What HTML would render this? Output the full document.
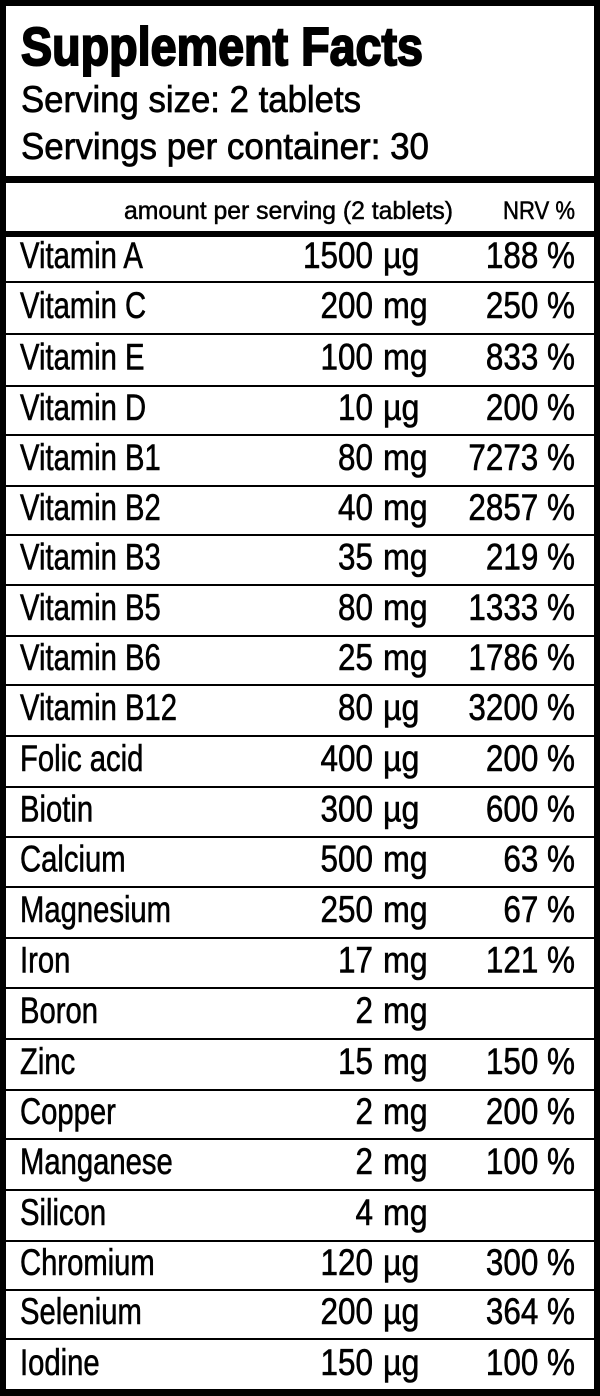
<!DOCTYPE html>
<html>
<head>
<meta charset="utf-8">
<style>
html,body{margin:0;padding:0;background:#fff;}
svg{display:block;}
text{font-family:"Liberation Sans",Arial,sans-serif;fill:#000;}
</style>
</head>
<body>
<svg width="600" height="1396" viewBox="0 0 600 1396" xmlns="http://www.w3.org/2000/svg">
<rect x="0" y="0" width="600" height="1396" fill="#fff"/>
<!-- outer border -->
<rect x="0" y="0" width="600" height="6" fill="#000"/>
<rect x="0" y="1389" width="600" height="7" fill="#000"/>
<rect x="0" y="0" width="6" height="1396" fill="#000"/>
<rect x="594" y="0" width="6" height="1396" fill="#000"/>
<!-- thick separators -->
<rect x="0" y="176" width="600" height="7" fill="#000"/>
<rect x="0" y="231" width="600" height="6" fill="#000"/>
<!-- thin row lines -->
<g fill="#000">
<rect x="0" y="281" width="600" height="2"/>
<rect x="0" y="333" width="600" height="2"/>
<rect x="0" y="385" width="600" height="2"/>
<rect x="0" y="434" width="600" height="2"/>
<rect x="0" y="485" width="600" height="2"/>
<rect x="0" y="534" width="600" height="2"/>
<rect x="0" y="584" width="600" height="2"/>
<rect x="0" y="635" width="600" height="2"/>
<rect x="0" y="684" width="600" height="2"/>
<rect x="0" y="735" width="600" height="2"/>
<rect x="0" y="786" width="600" height="2"/>
<rect x="0" y="836" width="600" height="2"/>
<rect x="0" y="886" width="600" height="2"/>
<rect x="0" y="937" width="600" height="2"/>
<rect x="0" y="987" width="600" height="2"/>
<rect x="0" y="1038" width="600" height="2"/>
<rect x="0" y="1089" width="600" height="2"/>
<rect x="0" y="1138" width="600" height="2"/>
<rect x="0" y="1189" width="600" height="2"/>
<rect x="0" y="1240" width="600" height="2"/>
<rect x="0" y="1289" width="600" height="2"/>
<rect x="0" y="1338" width="600" height="2"/>
</g>
<!-- header -->
<text x="21" y="65" font-size="54" font-weight="bold" stroke="#000" stroke-width="2" textLength="402" lengthAdjust="spacingAndGlyphs">Supplement Facts</text>
<text x="21" y="112" font-size="37" stroke="#000" stroke-width="0.7" textLength="340" lengthAdjust="spacingAndGlyphs">Serving size: 2 tablets</text>
<text x="21" y="159" font-size="37" stroke="#000" stroke-width="0.7" textLength="408" lengthAdjust="spacingAndGlyphs">Servings per container: 30</text>
<text x="124" y="219" font-size="25" stroke="#000" stroke-width="0.5" textLength="329" lengthAdjust="spacingAndGlyphs">amount per serving (2 tablets)</text>
<text x="503" y="219" font-size="25" stroke="#000" stroke-width="0.5" textLength="72" lengthAdjust="spacingAndGlyphs">NRV %</text>

<g font-size="37" stroke="#000" stroke-width="0.6">
<text transform="translate(20,268) scale(0.79,1)">Vitamin A</text>
<text transform="translate(373,268) scale(0.85,1)" text-anchor="end">1500</text>
<text transform="translate(383,268) scale(0.87,1)">µg</text>
<text transform="translate(575,268) scale(0.85,1)" text-anchor="end">188 %</text>

<text transform="translate(20,318) scale(0.79,1)">Vitamin C</text>
<text transform="translate(373,318) scale(0.85,1)" text-anchor="end">200</text>
<text transform="translate(383,318) scale(0.87,1)">mg</text>
<text transform="translate(575,318) scale(0.85,1)" text-anchor="end">250 %</text>

<text transform="translate(20,369.5) scale(0.79,1)">Vitamin E</text>
<text transform="translate(373,369.5) scale(0.85,1)" text-anchor="end">100</text>
<text transform="translate(383,369.5) scale(0.87,1)">mg</text>
<text transform="translate(575,369.5) scale(0.85,1)" text-anchor="end">833 %</text>

<text transform="translate(20,420) scale(0.79,1)">Vitamin D</text>
<text transform="translate(373,420) scale(0.85,1)" text-anchor="end">10</text>
<text transform="translate(383,420) scale(0.87,1)">µg</text>
<text transform="translate(575,420) scale(0.85,1)" text-anchor="end">200 %</text>

<text transform="translate(20,470) scale(0.79,1)">Vitamin B1</text>
<text transform="translate(373,470) scale(0.85,1)" text-anchor="end">80</text>
<text transform="translate(383,470) scale(0.87,1)">mg</text>
<text transform="translate(575,470) scale(0.85,1)" text-anchor="end">7273 %</text>

<text transform="translate(20,520) scale(0.79,1)">Vitamin B2</text>
<text transform="translate(373,520) scale(0.85,1)" text-anchor="end">40</text>
<text transform="translate(383,520) scale(0.87,1)">mg</text>
<text transform="translate(575,520) scale(0.85,1)" text-anchor="end">2857 %</text>

<text transform="translate(20,569.5) scale(0.79,1)">Vitamin B3</text>
<text transform="translate(373,569.5) scale(0.85,1)" text-anchor="end">35</text>
<text transform="translate(383,569.5) scale(0.87,1)">mg</text>
<text transform="translate(575,569.5) scale(0.85,1)" text-anchor="end">219 %</text>

<text transform="translate(20,620) scale(0.79,1)">Vitamin B5</text>
<text transform="translate(373,620) scale(0.85,1)" text-anchor="end">80</text>
<text transform="translate(383,620) scale(0.87,1)">mg</text>
<text transform="translate(575,620) scale(0.85,1)" text-anchor="end">1333 %</text>

<text transform="translate(20,670) scale(0.79,1)">Vitamin B6</text>
<text transform="translate(373,670) scale(0.85,1)" text-anchor="end">25</text>
<text transform="translate(383,670) scale(0.87,1)">mg</text>
<text transform="translate(575,670) scale(0.85,1)" text-anchor="end">1786 %</text>

<text transform="translate(20,720) scale(0.79,1)">Vitamin B12</text>
<text transform="translate(373,720) scale(0.85,1)" text-anchor="end">80</text>
<text transform="translate(383,720) scale(0.87,1)">µg</text>
<text transform="translate(575,720) scale(0.85,1)" text-anchor="end">3200 %</text>

<text transform="translate(20,771) scale(0.79,1)">Folic acid</text>
<text transform="translate(373,771) scale(0.85,1)" text-anchor="end">400</text>
<text transform="translate(383,771) scale(0.87,1)">µg</text>
<text transform="translate(575,771) scale(0.85,1)" text-anchor="end">200 %</text>

<text transform="translate(20,821.5) scale(0.79,1)">Biotin</text>
<text transform="translate(373,821.5) scale(0.85,1)" text-anchor="end">300</text>
<text transform="translate(383,821.5) scale(0.87,1)">µg</text>
<text transform="translate(575,821.5) scale(0.85,1)" text-anchor="end">600 %</text>

<text transform="translate(20,871.5) scale(0.79,1)">Calcium</text>
<text transform="translate(373,871.5) scale(0.85,1)" text-anchor="end">500</text>
<text transform="translate(383,871.5) scale(0.87,1)">mg</text>
<text transform="translate(575,871.5) scale(0.85,1)" text-anchor="end">63 %</text>

<text transform="translate(20,922) scale(0.79,1)">Magnesium</text>
<text transform="translate(373,922) scale(0.85,1)" text-anchor="end">250</text>
<text transform="translate(383,922) scale(0.87,1)">mg</text>
<text transform="translate(575,922) scale(0.85,1)" text-anchor="end">67 %</text>

<text transform="translate(20,972.5) scale(0.79,1)">Iron</text>
<text transform="translate(373,972.5) scale(0.85,1)" text-anchor="end">17</text>
<text transform="translate(383,972.5) scale(0.87,1)">mg</text>
<text transform="translate(575,972.5) scale(0.85,1)" text-anchor="end">121 %</text>

<text transform="translate(20,1023) scale(0.79,1)">Boron</text>
<text transform="translate(373,1023) scale(0.85,1)" text-anchor="end">2</text>
<text transform="translate(383,1023) scale(0.87,1)">mg</text>

<text transform="translate(20,1074) scale(0.79,1)">Zinc</text>
<text transform="translate(373,1074) scale(0.85,1)" text-anchor="end">15</text>
<text transform="translate(383,1074) scale(0.87,1)">mg</text>
<text transform="translate(575,1074) scale(0.85,1)" text-anchor="end">150 %</text>

<text transform="translate(20,1124) scale(0.79,1)">Copper</text>
<text transform="translate(373,1124) scale(0.85,1)" text-anchor="end">2</text>
<text transform="translate(383,1124) scale(0.87,1)">mg</text>
<text transform="translate(575,1124) scale(0.85,1)" text-anchor="end">200 %</text>

<text transform="translate(20,1174) scale(0.79,1)">Manganese</text>
<text transform="translate(373,1174) scale(0.85,1)" text-anchor="end">2</text>
<text transform="translate(383,1174) scale(0.87,1)">mg</text>
<text transform="translate(575,1174) scale(0.85,1)" text-anchor="end">100 %</text>

<text transform="translate(20,1225) scale(0.79,1)">Silicon</text>
<text transform="translate(373,1225) scale(0.85,1)" text-anchor="end">4</text>
<text transform="translate(383,1225) scale(0.87,1)">mg</text>

<text transform="translate(20,1275) scale(0.79,1)">Chromium</text>
<text transform="translate(373,1275) scale(0.85,1)" text-anchor="end">120</text>
<text transform="translate(383,1275) scale(0.87,1)">µg</text>
<text transform="translate(575,1275) scale(0.85,1)" text-anchor="end">300 %</text>

<text transform="translate(20,1324) scale(0.79,1)">Selenium</text>
<text transform="translate(373,1324) scale(0.85,1)" text-anchor="end">200</text>
<text transform="translate(383,1324) scale(0.87,1)">µg</text>
<text transform="translate(575,1324) scale(0.85,1)" text-anchor="end">364 %</text>

<text transform="translate(20,1375) scale(0.79,1)">Iodine</text>
<text transform="translate(373,1375) scale(0.85,1)" text-anchor="end">150</text>
<text transform="translate(383,1375) scale(0.87,1)">µg</text>
<text transform="translate(575,1375) scale(0.85,1)" text-anchor="end">100 %</text>
</g>
</svg>
</body>
</html>
